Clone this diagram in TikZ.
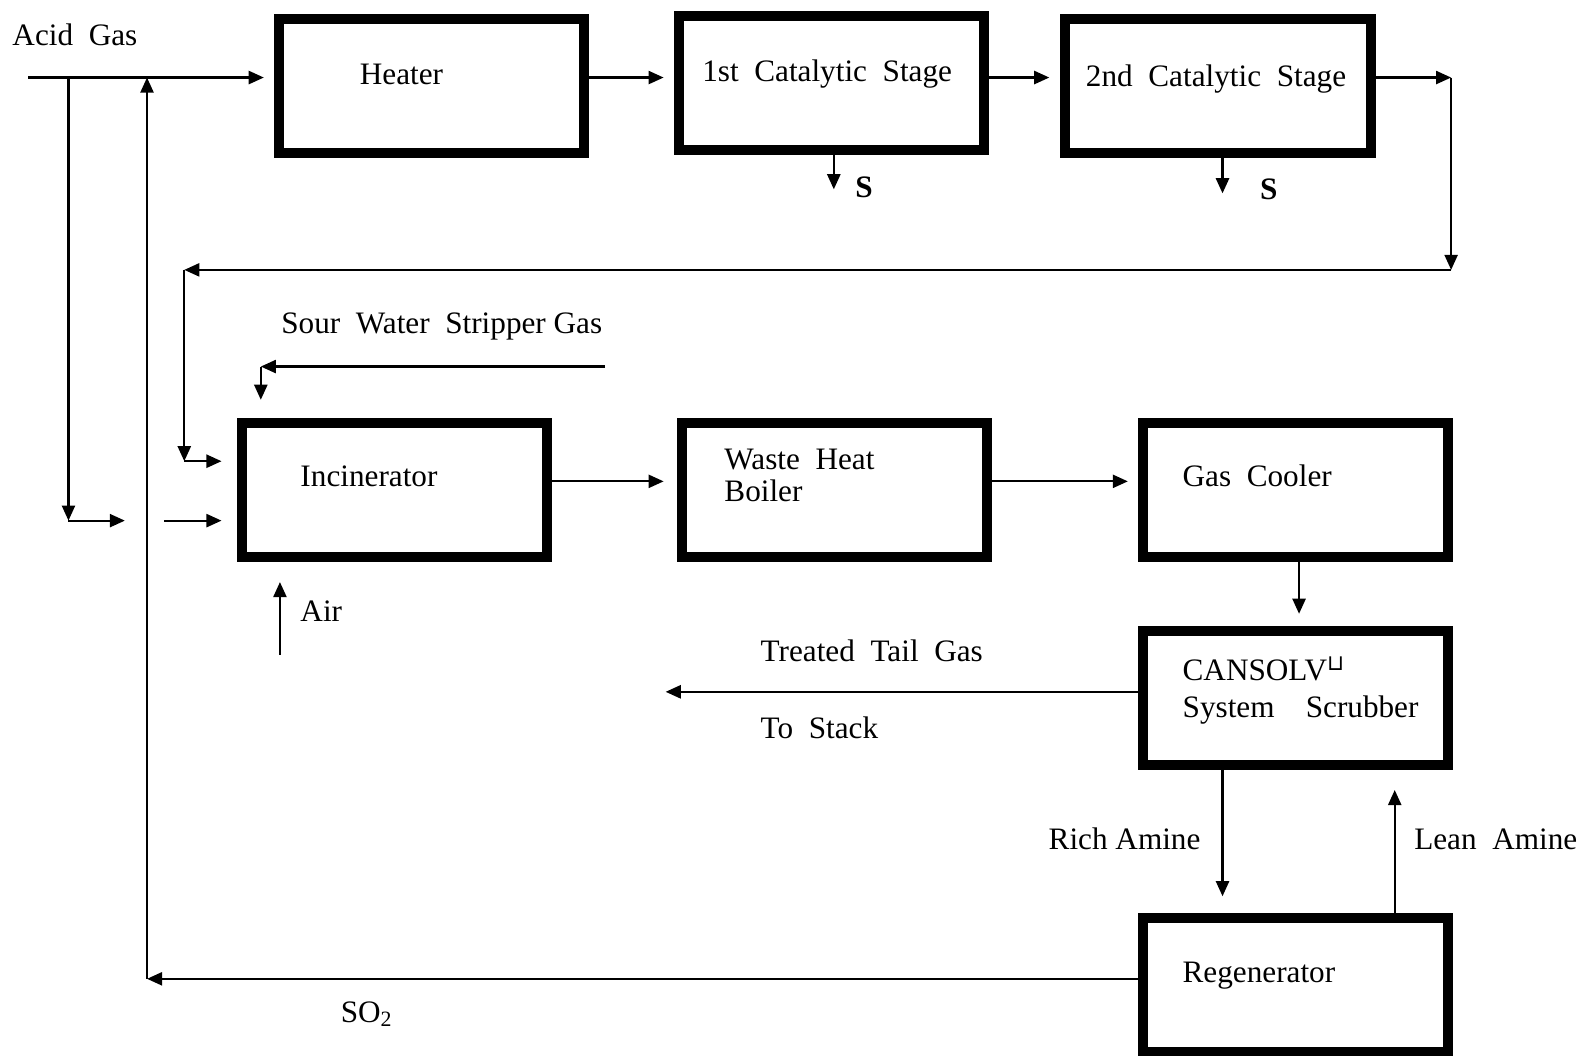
\documentclass[tikz,border=0pt]{standalone}
\usepackage{fontspec}
\setmainfont{Liberation Serif}
\newfontfamily\dejavu{DejaVu Sans}
\usetikzlibrary{arrows.meta}

\begin{document}
\begin{tikzpicture}[x=0.5pt,y=-0.5pt,
    unit/.style={draw,line width=5pt,minimum width=151.5pt,minimum height=66.5pt,inner sep=0pt},
    flow/.style={line width=1.1pt,-{Triangle[length=7.5pt,width=6.5pt]}},
    lbl/.style={anchor=base west,inner sep=0pt,font=\fontsize{15.5}{18}\selectfont}]
    \useasboundingbox (0,0) rectangle (1568,1048);

    % 设备
    \node[unit] (heater) at (428.5,85) {};
    \node[unit] (cat1) at (825.5,82.5) {};
    \node[unit] (cat2) at (1209.5,85) {};
    \node[unit] (incin) at (391.5,486.5) {};
    \node[unit] (whb) at (828.5,486.5) {};
    \node[unit] (cooler) at (1286.5,486.5) {};
    \node[unit] (scrub) at (1286.5,693) {};
    \node[unit] (regen) at (1286.5,978.5) {};

    % 设备名称
    \node[lbl] (heatertxt) at (357,84) {Heater};
    \node[lbl] (cat1txt) at (697,81) {1st~~Catalytic~~Stage};
    \node[lbl] (cat2txt) at (1078,86) {2nd~~Catalytic~~Stage};
    \node[lbl] (incintxt) at (298,483) {Incinerator};
    \node[lbl] (whbtxt) at (719,466) {Waste~~Heat};
    \node[lbl] (whbtxtb) at (719,498) {Boiler};
    \node[lbl] (coolertxt) at (1174,483) {Gas~~Cooler};
    \node[lbl] (scrubtxt) at (1174,676) {CANSOLV\textsuperscript{\dejavu ⊔}};
    \node[lbl] (scrubtxtb) at (1174,712) {System~~~~Scrubber};
    \node[lbl] (regentxt) at (1174,976) {Regenerator};

    % 主线
    \coordinate (topline) at (0,77);
    \coordinate (gasin) at (28,77);
    \draw[flow,shorten >=5pt] (gasin) -- (heater.west |- topline);
    \draw[flow,shorten >=5pt] (heater.east |- topline) -- (cat1.west |- topline);
    \draw[flow,shorten >=5.5pt] (cat1.east |- topline) -- (cat2.west |- topline);
    \node[lbl] (acidtxt) at (12,45) {Acid~~Gas};

    % 硫
    \coordinate (s1) at (828,188);
    \coordinate (s2) at (1214,192);
    \draw[flow] (cat1.south -| s1) -- (s1);
    \draw[flow] (cat2.south -| s2) -- (s2);
    \node[lbl,font=\fontsize{15.5}{18}\selectfont\bfseries] (s1txt) at (849,196) {S};
    \node[lbl,font=\fontsize{15.5}{18}\selectfont\bfseries] (s2txt) at (1251,198) {S};

    % 尾气回到焚烧炉
    \coordinate (turn1) at (1441,77);
    \coordinate (turn2) at (1441,268);
    \coordinate (turn3) at (183,268);
    \coordinate (turn4) at (183,458);
    \draw[flow] (cat2.east |- topline) -- (turn1);
    \draw[flow] (turn1) -- (turn2);
    \draw[flow] (turn2) -- (turn3);
    \draw[flow] (turn3) -- (turn4);
    \draw[flow,shorten >=7.5pt] (turn4) -- (incin.west |- turn4);

    % 旁路
    \coordinate (bypass) at (68,77);
    \coordinate (bypassend) at (68,517);
    \coordinate (bypassgap) at (124,517);
    \coordinate (mixin) at (163,517);
    \draw[flow] (bypass) -- (bypassend);
    \draw[flow] (bypassend) -- (bypassgap);
    \draw[flow,shorten >=7.5pt] (mixin) -- (incin.west |- mixin);

    % 酸性水汽提气
    \coordinate (swsin) at (601,364);
    \coordinate (swsturn) at (259,364);
    \draw[flow] (swsin) -- (swsturn);
    \draw[flow,shorten >=9pt] (swsturn) -- (incin.north -| swsturn);
    \node[lbl] (swstxt) at (279,331) {Sour~~Water~~Stripper Gas};

    % 空气
    \coordinate (airin) at (278,650);
    \draw[flow,shorten >=10pt] (airin) -- (incin.south -| airin);
    \node[lbl] (airtxt) at (298,617) {Air};

    % 中间一行
    \coordinate (midline) at (0,478);
    \draw[flow,shorten >=6.5pt] (incin.east |- midline) -- (whb.west |- midline);
    \draw[flow,shorten >=5pt] (whb.east |- midline) -- (cooler.west |- midline);
    \coordinate (coolx) at (1290,0);
    \draw[flow,shorten >=6pt] (cooler.south -| coolx) -- (scrub.north -| coolx);

    % 去烟囱
    \coordinate (stack) at (661,687);
    \draw[flow] (scrub.west |- stack) -- (stack);
    \node[lbl] (tailtxt) at (755,657) {Treated~~Tail~~Gas};
    \node[lbl] (stacktxt) at (755,733) {To~~Stack};

    % 胺液循环
    \coordinate (richx) at (1214,0);
    \coordinate (leanx) at (1385,0);
    \draw[flow,shorten >=8.5pt] (scrub.south -| richx) -- (regen.north -| richx);
    \draw[flow,shorten >=10pt] (regen.north -| leanx) -- (scrub.south -| leanx);
    \node[lbl] (richtxt) at (1041,844) {Rich Amine};
    \node[lbl] (leantxt) at (1404,844) {Lean~~Amine};

    % SO2 返回
    \coordinate (so2top) at (146,77);
    \coordinate (so2corner) at (146,972);
    \draw[flow] (regen.west |- so2corner) -- (so2corner);
    \draw[flow] (so2corner) -- (so2top);
    \node[lbl] (so2txt) at (338,1015) {SO\textsubscript{2}};
\end{tikzpicture}
\end{document}
